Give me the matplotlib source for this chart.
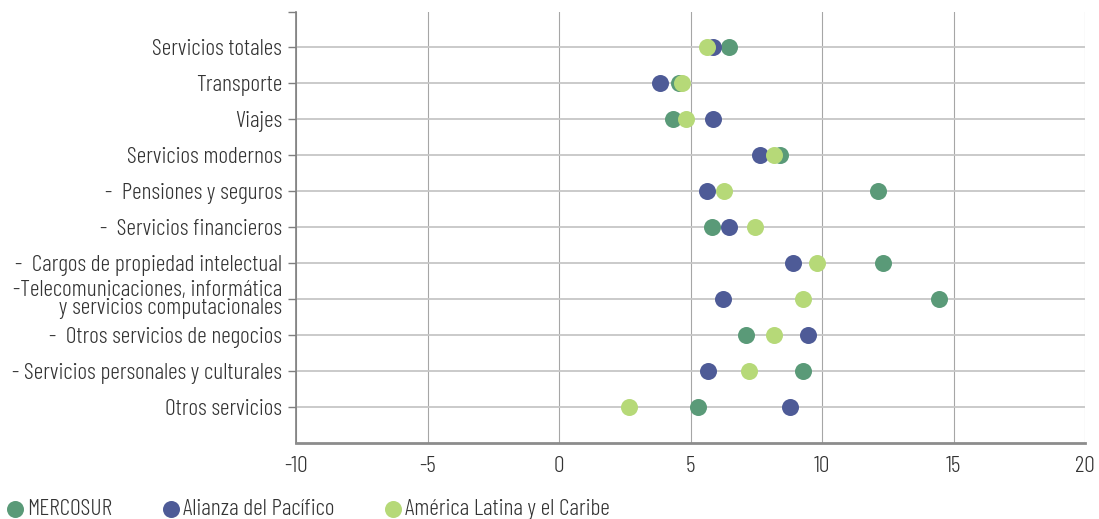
import matplotlib
matplotlib.use("Agg")
import matplotlib.pyplot as plt
import numpy as np

plt.rcParams['font.family'] = ['Barlow Condensed', 'Barlow Semi Condensed', 'DejaVu Sans']
plt.rcParams['font.weight'] = 300
plt.rcParams['axes.unicode_minus'] = False

categorias = [
    "Servicios totales",
    "Transporte",
    "Viajes",
    "Servicios modernos",
    "-  Pensiones y seguros",
    "-  Servicios financieros",
    "-  Cargos de propiedad intelectual",
    "-Telecomunicaciones, informática\ny servicios computacionales",
    "-  Otros servicios de negocios",
    "- Servicios personales y culturales",
    "Otros servicios",
]

mercosur = [6.48, 4.55, 4.33, 8.41, 12.13, 5.80, 12.32, 14.45, 7.10, 9.26, 5.30]
alianza = [5.87, 3.85, 5.84, 7.65, 5.63, 6.48, 8.88, 6.22, 9.46, 5.67, 8.79]
alc = [5.63, 4.66, 4.82, 8.17, 6.29, 7.46, 9.80, 9.29, 8.19, 7.21, 2.68]

series = [
    ("MERCOSUR", mercosur, "#5a9a78"),
    ("Alianza del Pacífico", alianza, "#4e5b97"),
    ("América Latina y el Caribe", alc, "#b6d978"),
]

fig = plt.figure(figsize=(10.99, 5.19), dpi=100)
ax = fig.add_axes([296/1099, 1-443/519, (1085-296)/1099, (443-12)/519])

y = np.arange(len(categorias))
for nombre, valores, color in series:
    ax.scatter(valores, y, s=150, color=color, label=nombre, zorder=3, linewidths=0)

ax.set_xlim(-10, 20)
ax.set_ylim(11, -0.97)
ax.set_xticks([-10, -5, 0, 5, 10, 15, 20])
ax.set_yticks(y)
ax.set_yticks([-0.97], minor=True)
ax.set_yticklabels(categorias, fontsize=17, color="#333333", linespacing=0.78)
ax.tick_params(axis='x', labelsize=17, colors="#333333", length=0, pad=9)
ax.tick_params(axis='y', which='both', length=6, width=1, color="#7f7f7f", pad=4)

ax.grid(axis='y', color="#c6c6c6", linewidth=1.3, zorder=0)
ax.grid(axis='x', color="#a6a6a6", linewidth=0.8, zorder=0)
ax.set_axisbelow(True)

for s in ['top', 'right']:
    ax.spines[s].set_visible(False)
ax.spines['left'].set_color("#7f7f7f")
ax.spines['left'].set_linewidth(1.2)
ax.spines['bottom'].set_color("#8c8c8c")
ax.spines['bottom'].set_linewidth(2)

leg = fig.legend(loc='lower left', bbox_to_anchor=(-0.01, -0.03), ncol=3, frameon=False,
                 fontsize=17, handletextpad=0.0, columnspacing=2.0, markerscale=1.0,
                 handlelength=1.0, borderaxespad=0.2)
for t in leg.get_texts():
    t.set_color("#333333")

fig.savefig("out.png", dpi=100)
